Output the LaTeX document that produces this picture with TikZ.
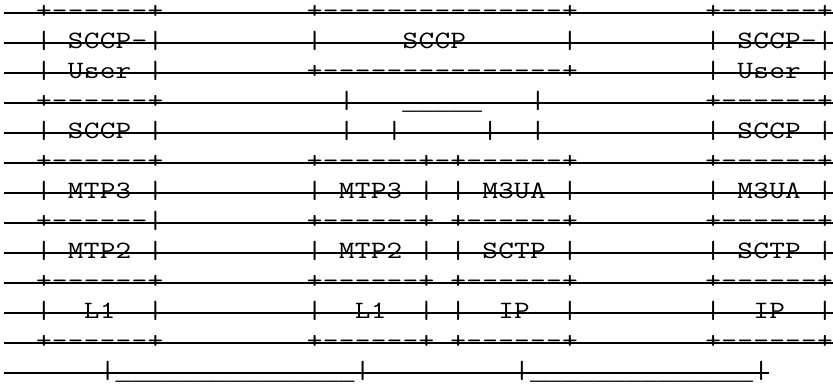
\documentclass[tikz,border=0pt]{standalone}
\usepackage{graphicx}
\usepackage{fontspec}
\newfontfamily\uscorefont{Liberation Mono}
% character grid: one ASCII character per cell ('.' = blank cell)
\newlength\asciipitch
\setlength\asciipitch{11.955pt}
\def\asciiend{<asciiend>}
\newcommand\asciirow[1]{\asciiloop#1\asciiend}
\def\asciiloop#1{\ifx#1\asciiend\else\asciicell{#1}\expandafter\asciiloop\fi}
\def\asciicell#1{\makebox[\asciipitch]{\ifx#1.\else\ifx#1_{\fontsize{19.92pt}{20pt}\uscorefont\raisebox{-0.6pt}{\textunderscore}}\else\scalebox{1.22}[1]{#1}\fi\fi}}
\tikzset{
  rowtext/.style={anchor=base west, inner sep=0pt, outer sep=0pt,
    font=\fontsize{18.7pt}{20pt}\selectfont\ttfamily, text=black},
  strike/.style={line width=1.45pt, black}
}
\begin{document}
\begin{tikzpicture}[x=0.75pt, y=-0.75pt]
\useasboundingbox (0,0) rectangle (833,387);
\node[rowtext] (r0)  at (4, 18.5) {\asciirow{..+------+.........+---------------+........+------+}};
\node[rowtext] (r1)  at (4, 48.5) {\asciirow{..|.SCCP-|.........|.....SCCP......|........|.SCCP-|}};
\node[rowtext] (r2)  at (4, 78.5) {\asciirow{..|.User.|.........+---------------+........|.User.|}};
\node[rowtext] (r3)  at (4,108.5) {\asciirow{..+------+...........|..._____...|..........+------+}};
\node[rowtext] (r4)  at (4,138.5) {\asciirow{..|.SCCP.|...........|..|.....|..|..........|.SCCP.|}};
\node[rowtext] (r5)  at (4,168.5) {\asciirow{..+------+.........+------+-+------+........+------+}};
\node[rowtext] (r6)  at (4,198.5) {\asciirow{..|.MTP3.|.........|.MTP3.|.|.M3UA.|........|.M3UA.|}};
\node[rowtext] (r7)  at (4,228.5) {\asciirow{..+------|.........+------+.+------+........+------+}};
\node[rowtext] (r8)  at (4,258.5) {\asciirow{..|.MTP2.|.........|.MTP2.|.|.SCTP.|........|.SCTP.|}};
\node[rowtext] (r9)  at (4,288.5) {\asciirow{..+------+.........+------+.+------+........+------+}};
\node[rowtext] (r10) at (4,318.5) {\asciirow{..|..L1..|.........|..L1..|.|..IP..|........|..IP..|}};
\node[rowtext] (r11) at (4,348.5) {\asciirow{..+------+.........+------+.+------+........+------+}};
\node[rowtext] (r12) at (4,378.5) {\asciirow{......|_______________|.........|______________|}};
\foreach \i in {0,...,12}
  \draw[strike] ([yshift=4.1pt]r\i.base west) -- ([yshift=4.1pt]r\i.base east);
\end{tikzpicture}
\end{document}
